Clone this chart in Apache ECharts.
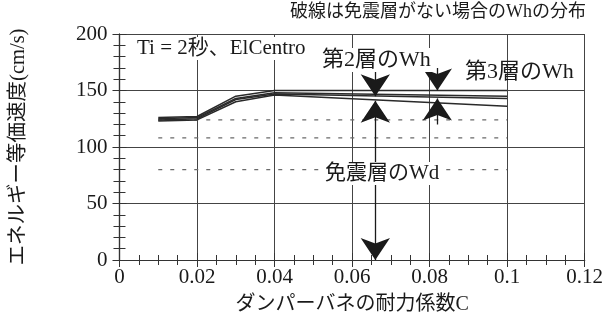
<!DOCTYPE html>
<html>
<head>
<meta charset="utf-8">
<script src="https://cdn.jsdelivr.net/npm/echarts@6/dist/echarts.min.js"></script>
<style>html,body{margin:0;padding:0;background:#fff;}#c{width:606px;height:324px;}</style>
</head>
<body>
<div id="c"></div>
<script>
// ---- data ----
const xVals = [0.01, 0.02, 0.03, 0.04, 0.1];
const wh1 = [126, 127, 145, 150, 150];
const wh2 = [125, 126, 143, 148, 145];
const wh3 = [124, 125, 142, 147, 143];
const wh4 = [123, 124, 140, 146, 136];
const dashX = [0.01, 0.1];
const dashY = [124, 108, 80];
const xTicks = ['0', '0.02', '0.04', '0.06', '0.08', '0.1', '0.12'];
const yTicks = ['0', '50', '100', '150', '200'];
// arrows: [x, fromY, toY, startSymbol, endSymbol]
const arrows = [
  [0.066, 170, 145, 'none', 'arrow'],
  [0.066, 0, 141, 'arrow', 'arrow'],
  [0.082, 170, 150, 'none', 'arrow'],
  [0.082, 120, 143, 'none', 'arrow']
];
const title = '破線は免震層がない場合のWhの分布';
const note = 'Ti = 2秒、ElCentro';
const lab2 = '第2層のWh';
const lab3 = '第3層のWh';
const labWd = '免震層のWd';
const yName = 'エネルギー等価速度(cm/s)';
const xName = 'ダンパーバネの耐力係数C';

const FF = "'Liberation Serif', 'Noto Sans CJK JP', serif";
const chart = echarts.init(document.getElementById('c'), null, {renderer: 'canvas'});

const lineSeries = [wh1, wh2, wh3, wh4].map(arr => ({
  type: 'line', xAxisIndex: 0, yAxisIndex: 0,
  data: xVals.map((x, i) => [x, arr[i]]),
  symbol: 'none', silent: true,
  lineStyle: {color: '#2a2a2a', width: 1.5}, z: 3
}));
const dashSeries = dashY.map(y => ({
  type: 'line', xAxisIndex: 0, yAxisIndex: 0,
  data: dashX.map(x => [x, y]),
  symbol: 'none', silent: true,
  lineStyle: {color: '#6a6a6a', width: 1.3, type: [4, 8]}, z: 2
}));
const arrowSeries = arrows.map(a => ({
  type: 'lines', coordinateSystem: 'cartesian2d', xAxisIndex: 0, yAxisIndex: 0,
  symbol: [a[3], a[4]], symbolSize: 22, silent: true,
  lineStyle: {color: '#1a1a1a', width: 1.3, opacity: 1},
  itemStyle: {color: '#1a1a1a'},
  data: [{coords: [[a[0], a[1]], [a[0], a[2]]]}], z: 4
}));

const axisCommonX = {
  type: 'value', min: 0, max: 0.12, interval: 0.02,
  axisLine: {show: true, lineStyle: {color: '#333', width: 1.2}},
  axisTick: {show: true, inside: true, length: 7, lineStyle: {color: '#333'}},
  minorTick: {show: true, splitNumber: 4, length: 5, lineStyle: {color: '#333'}}
};
const axisCommonY = {
  type: 'value', min: 0, max: 200, interval: 50,
  axisLine: {show: true, lineStyle: {color: '#333', width: 1.2}},
  axisTick: {show: true, inside: true, length: 7, lineStyle: {color: '#333'}},
  minorTick: {show: true, splitNumber: 5, length: 6, lineStyle: {color: '#333'}}
};

const gtext = (t, x, y, size, align, bg) => ({
  type: 'text', left: align === 'right' ? undefined : x, right: align === 'right' ? x : undefined,
  top: y, z: 100,
  style: {text: t, font: size + 'px ' + FF, fill: '#1a1a1a',
    backgroundColor: bg ? '#fff' : undefined, padding: bg ? [1, 2] : 0}
});

chart.setOption({
  animation: false,
  backgroundColor: '#fff',
  textStyle: {fontFamily: FF},
  grid: {left: 118, right: 20, top: 34, bottom: 64},
  xAxis: [
    Object.assign({}, axisCommonX, {
      position: 'bottom',
      axisLabel: {fontSize: 21, color: '#1a1a1a', margin: 7, fontFamily: FF,
        formatter: (v) => xTicks[Math.round(v / 0.02)]},
      splitLine: {show: true, lineStyle: {color: '#444', width: 1}},
      name: xName, nameLocation: 'middle', nameGap: 35,
      nameTextStyle: {fontSize: 20, color: '#1a1a1a', fontFamily: FF}
    }),
    Object.assign({}, axisCommonX, {
      position: 'top', axisLabel: {show: false}, splitLine: {show: false}
    })
  ],
  yAxis: [
    Object.assign({}, axisCommonY, {
      position: 'left',
      axisLabel: {fontSize: 21, color: '#1a1a1a', margin: 12, fontFamily: FF,
        formatter: (v) => yTicks[Math.round(v / 50)]},
      splitLine: {show: true, lineStyle: {color: '#444', width: 1}},
      name: yName, nameLocation: 'middle', nameGap: 91, nameRotate: 90,
      nameTextStyle: {fontSize: 20.5, color: '#1a1a1a', fontFamily: FF}
    }),
    Object.assign({}, axisCommonY, {
      position: 'right', axisLabel: {show: false}, splitLine: {show: false}
    })
  ],
  graphic: [
    gtext(title, 20, 3, 18, 'right', false),
    gtext(note, 135, 37, 21, 'left', true),
    gtext(lab2, 320, 48, 22, 'left', true),
    gtext(lab3, 465, 61, 22, 'left', false),
    gtext(labWd, 323, 162, 21, 'left', true)
  ],
  series: [].concat(dashSeries, lineSeries, arrowSeries)
});
</script>
</body>
</html>
